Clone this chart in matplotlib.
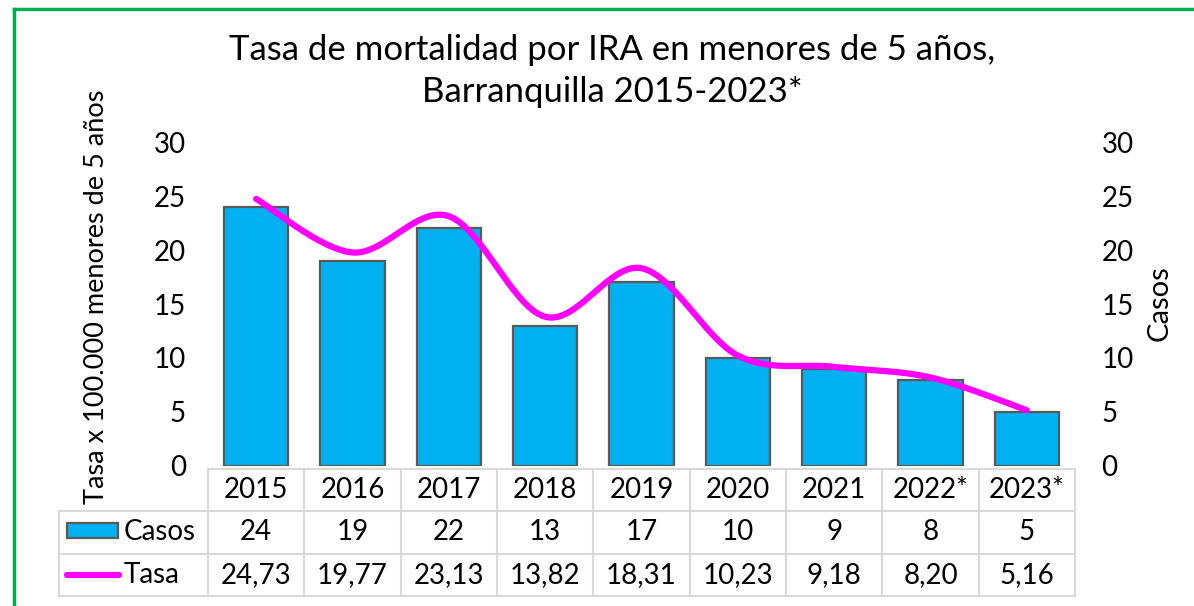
import numpy as np
import matplotlib
matplotlib.use("Agg")
import matplotlib.pyplot as plt
from matplotlib.transforms import blended_transform_factory
from matplotlib.patches import Rectangle
from matplotlib.lines import Line2D

years = ["2015", "2016", "2017", "2018", "2019", "2020", "2021", "2022*", "2023*"]
casos = [24, 19, 22, 13, 17, 10, 9, 8, 5]
tasa = [24.73, 19.77, 23.13, 13.82, 18.31, 10.23, 9.18, 8.20, 5.16]
tasa_labels = ["24,73", "19,77", "23,13", "13,82", "18,31", "10,23", "9,18", "8,20", "5,16"]
yticks = [0, 5, 10, 15, 20, 25, 30]

FONT = ["Lato", "DejaVu Sans"]
plt.rcParams['font.family'] = FONT

BAR = "#00B0F0"
EDGE = "#595959"
LINE = "#FF00FF"
GRID = "#D9D9D9"
FS = 20

W, H = 1194, 606
fig = plt.figure(figsize=(W / 100, H / 100), dpi=100)

def fx(px):
    return px / W

def fy(py):
    return 1 - py / H

ax = fig.add_axes([fx(208), fy(466), fx(1075) - fx(208), fy(142) - fy(466)])
x = np.arange(len(years))
ax.bar(x, casos, width=0.67, color=BAR, edgecolor=EDGE, linewidth=1.6, zorder=2)

# Smoothed line (Catmull-Rom through the data points, like Excel smoothing)
def catmull(xs, ys, n=40):
    px = np.concatenate([[xs[0]], xs, [xs[-1]]])
    py = np.concatenate([[ys[0]], ys, [ys[-1]]])
    ox, oy = [], []
    for i in range(1, len(px) - 2):
        p0, p1, p2, p3 = (np.array([px[j], py[j]]) for j in (i - 1, i, i + 1, i + 2))
        c1 = p1 + (p2 - p0) / 6
        c2 = p2 - (p3 - p1) / 6
        t = np.linspace(0, 1, n)[:, None]
        b = ((1 - t) ** 3) * p1 + 3 * ((1 - t) ** 2) * t * c1 + 3 * (1 - t) * t ** 2 * c2 + t ** 3 * p2
        ox.extend(b[:, 0]); oy.extend(b[:, 1])
    return np.array(ox), np.array(oy)

sx, sy = catmull(x.astype(float), np.array(tasa))
ax.plot(sx, sy, color=LINE, linewidth=4.5, solid_capstyle='round', zorder=3)

ax.set_xlim(-0.5, len(years) - 0.5)
ax.set_ylim(0, 30)
ax.set_yticks(yticks)
ax.set_xticks([])
for s in ax.spines.values():
    s.set_visible(False)
ax.tick_params(axis='y', length=0, labelsize=FS, pad=16)

ax2 = ax.twinx()
ax2.set_ylim(0, 30)
ax2.set_yticks(yticks)
for s in ax2.spines.values():
    s.set_visible(False)
ax2.tick_params(axis='y', length=0, labelsize=FS, pad=19)

fig.text(fx(97), fy(297), "Tasa x 100.000 menores de 5 años", rotation=90,
         ha='center', va='center', fontsize=19.5)
fig.text(fx(1160), fy(303), "Casos", rotation=90, ha='center', va='center', fontsize=21)

fig.text(fx(612), fy(50), "Tasa de mortalidad por IRA en menores de 5 años,",
         ha='center', va='center', fontsize=25)
fig.text(fx(612), fy(92), "Barranquilla 2015-2023*", ha='center', va='center', fontsize=25)

# Data table
tr = blended_transform_factory(ax.transData, fig.transFigure)
y_top, y_r1, y_r2, y_bot = fy(469), fy(511), fy(554), fy(596)
n = len(years)
lw = 1.5
fig.add_artist(Line2D([-0.5, n - 0.5], [y_top, y_top], transform=tr, color=GRID, lw=lw))
for yy in (y_r1, y_r2, y_bot):
    fig.add_artist(Line2D([-0.5, n - 0.5], [yy, yy], transform=tr, color=GRID, lw=lw))
    fig.add_artist(Line2D([fx(59), fx(208)], [yy, yy], transform=fig.transFigure, color=GRID, lw=lw))
for i in range(n + 1):
    fig.add_artist(Line2D([i - 0.5, i - 0.5], [y_top, y_bot], transform=tr, color=GRID, lw=lw))
fig.add_artist(Line2D([fx(59), fx(59)], [y_r1, y_bot], transform=fig.transFigure, color=GRID, lw=lw))

for i in range(n):
    fig.text(i, (y_top + y_r1) / 2, years[i], transform=tr, ha='center', va='center', fontsize=FS)
    fig.text(i, (y_r1 + y_r2) / 2, str(casos[i]), transform=tr, ha='center', va='center', fontsize=FS)
    fig.text(i, (y_r2 + y_bot) / 2, tasa_labels[i], transform=tr, ha='center', va='center', fontsize=FS)

# legend keys
fig.add_artist(Rectangle((fx(67), fy(538)), fx(118) - fx(67), fy(523) - fy(538),
                         transform=fig.transFigure, facecolor=BAR, edgecolor=EDGE, lw=1.6))
fig.add_artist(Line2D([fx(67), fx(119)], [fy(575), fy(575)], transform=fig.transFigure,
                      color=LINE, lw=4.5, solid_capstyle='round'))
fig.text(fx(124), (y_r1 + y_r2) / 2, "Casos", ha='left', va='center', fontsize=FS)
fig.text(fx(124), (y_r2 + y_bot) / 2, "Tasa", ha='left', va='center', fontsize=FS)

# green border
fig.add_artist(Line2D([fx(13.5), fx(13.5)], [fy(8.5), 0], transform=fig.transFigure, color="#00B050", lw=2.5))
fig.add_artist(Line2D([fx(13.5), 1], [fy(8.5), fy(8.5)], transform=fig.transFigure, color="#00B050", lw=2.5))

fig.savefig("out.png", dpi=100)
